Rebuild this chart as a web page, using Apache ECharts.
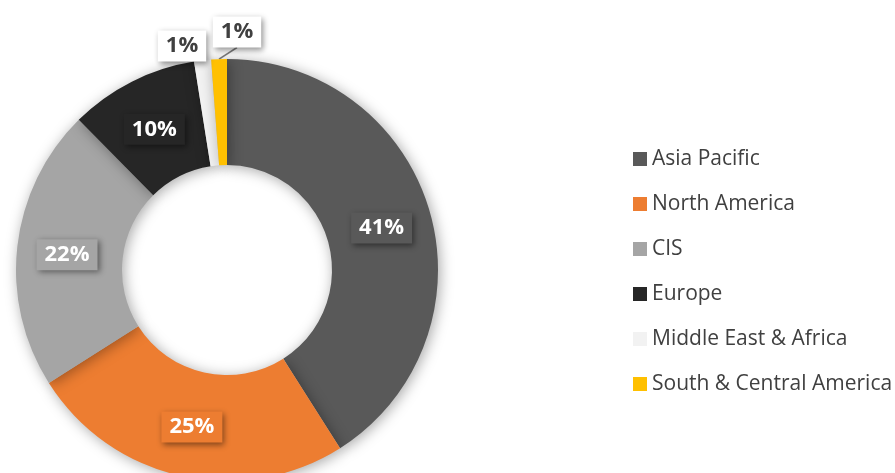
<!DOCTYPE html>
<html>
<head>
<meta charset="utf-8">
<script src="https://cdn.jsdelivr.net/npm/echarts@6/dist/echarts.min.js"></script>
<style>
  html, body { margin: 0; padding: 0; background: #fff; }
  #chart { width: 895px; height: 473px; }
</style>
</head>
<body>
<div id="chart"></div>
<script>
// regions and their share of the total (%)
const regions = ['Asia Pacific', 'North America', 'CIS', 'Europe', 'Middle East & Africa', 'South & Central America'];
const shares = [41, 25, 21.6, 9.9, 1.3, 1.2];
const colors = ['#595959', '#ED7D31', '#A5A5A5', '#262626', '#F2F2F2', '#FFC000'];

const chart = echarts.init(document.getElementById('chart'));

const data = regions.map(function (name, i) {
  const item = { name: name, value: shares[i], itemStyle: { color: colors[i] } };
  if (i >= 4) {
    // tiny slices get their label outside, on a white box
    item.label = {
      position: 'outside',
      color: '#404040',
      backgroundColor: '#ffffff'
    };
    item.labelLine = { show: i === 5, length: 10, length2: 0, lineStyle: { color: '#7f7f7f', width: 1.5 } };
  } else {
    item.label = { backgroundColor: colors[i] };
  }
  return item;
});

chart.setOption({
  animation: false,
  legend: {
    orient: 'vertical',
    left: 628,
    top: 143,
    itemWidth: 14,
    itemHeight: 14,
    itemGap: 23,
    icon: 'rect',
    data: regions,
    textStyle: { fontFamily: 'Open Sans', fontSize: 21, color: '#404040', lineHeight: 22 }
  },
  series: [{
    type: 'pie',
    center: [227, 270],
    radius: [105, 211],
    startAngle: 90,
    avoidLabelOverlap: false,
    data: data,
    itemStyle: {
      shadowBlur: 14,
      shadowColor: 'rgba(0,0,0,0.35)',
      shadowOffsetX: 2,
      shadowOffsetY: 2
    },
    label: {
      show: true,
      position: 'inside',
      formatter: function (p) { return Math.round(p.percent) + '%'; },
      fontFamily: 'Open Sans',
      fontWeight: 'bold',
      fontSize: 22,
      color: '#ffffff',
      padding: [5, 8, 4, 8],
      shadowBlur: 6,
      shadowColor: 'rgba(0,0,0,0.45)',
      shadowOffsetX: 2,
      shadowOffsetY: 2
    },
    labelLayout: function (p) {
      if (p.dataIndex === 4) return { x: 182, y: 46, align: 'center', verticalAlign: 'middle' };
      if (p.dataIndex === 5) return { x: 237, y: 32, align: 'center', verticalAlign: 'middle' };
      if (p.dataIndex !== 1) return { dy: 3 };
    }
  }]
});
</script>
</body>
</html>
